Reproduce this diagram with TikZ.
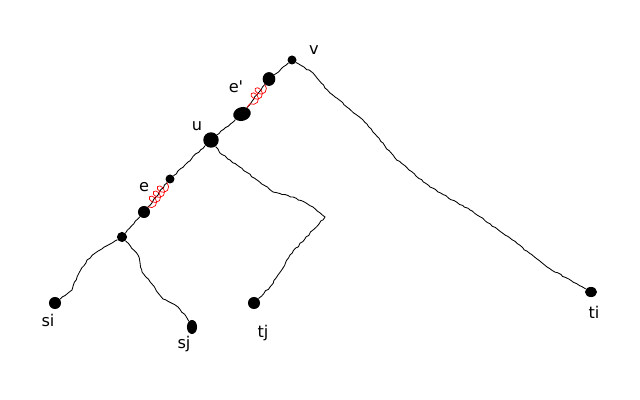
\documentclass[tikz,border=0pt]{standalone}
\usepackage{fontspec}
\setmainfont{DejaVu Sans}
\usetikzlibrary{decorations.pathmorphing,shapes.geometric}
\tikzset{
	dot/.style={circle, fill=black, inner sep=0pt, minimum size=#1},
	blob/.style 2 args={ellipse, fill=black, inner sep=0pt, minimum width=#1, minimum height=#2},
	lbl/.style={inner sep=0pt, font=\fontsize{11.5}{13}\selectfont},
	wig/.style={line width=0.6pt, decorate, decoration={random steps, segment length=2.2pt, amplitude=0.45pt}},
	redcoil/.style={red, line width=0.5pt, decorate, decoration={coil, amplitude=3.6pt, segment length=4.6pt, aspect=0.8}}
}

\begin{document}
\begin{tikzpicture}[x=0.025cm, y=-0.025cm]
			%%%%% START %%%%%
			\pgfmathsetseed{7}
			\useasboundingbox (0, 0) rectangle (640, 400);
			
			% dots of the tree
			\node[dot=6.4pt] (v) at (292, 60) {};
			\node[blob={9pt}{9.8pt}] (ept) at (269, 79) {};
			\node[blob={12.6pt}{9.8pt}, rotate=15] (epb) at (242, 114) {};
			\node[dot=11pt] (u) at (211, 140) {};
			\node[dot=6.4pt] (et) at (170, 179) {};
			\node[dot=8.6pt] (eb) at (144, 212) {};
			\node[dot=7.2pt] (w) at (122, 237) {};
			\node[dot=8.6pt] (si) at (55, 303) {};
			\node[blob={7.2pt}{10pt}] (sj) at (192, 327) {};
			\node[dot=8.6pt] (tj) at (254, 303) {};
			\node[blob={8.6pt}{7.2pt}] (ti) at (591, 292) {};
			
			% labels
			\node[lbl] (lv) at (314, 50) {v};
			\node[lbl] (lep) at (236, 87) {e\textquotesingle};
			\node[lbl] (lu) at (197, 126) {u};
			\node[lbl] (le) at (144, 187) {e};
			\node[lbl] (lsi) at (48, 320) {si};
			\node[lbl] (lsj) at (184, 344) {sj};
			\node[lbl] (ltj) at (263, 333) {tj};
			\node[lbl] (lti) at (594, 312) {ti};
			
			% edges
			\draw[wig] (v) -- (ept);
			\draw[wig] (ept) -- (epb);
			\draw[redcoil] (ept) -- (epb);
			\draw[wig] (epb) -- (u);
			\draw[wig] (u) -- (et);
			\draw[wig] (et) -- (eb);
			\draw[redcoil] (et) -- (eb);
			\draw[wig] (eb) -- (w);
			
			\draw[wig] (w) -- (100, 250) -- (87, 260) -- (77, 277) -- (72, 290) -- (si);
			\draw[wig] (w) -- (138, 255) -- (142, 272) -- (155, 288) -- (163, 299) -- (178, 307) -- (187, 318) -- (sj);
			
			\draw[wig] (u) -- (220, 153) -- (237, 165) -- (257, 180) -- (273, 192) -- (293, 197) -- (313, 207) -- (325, 217)
				-- (313, 230) -- (290, 255) -- (283, 268) -- (270, 287) -- (tj);
			
			\draw[wig] (v) -- (313, 73) -- (330, 93) -- (363, 120) -- (395, 158) -- (430, 187) -- (470, 210)
				-- (510, 238) -- (547, 267) -- (ti);
			
			%%%%% END %%%%%
\end{tikzpicture}
\end{document}
